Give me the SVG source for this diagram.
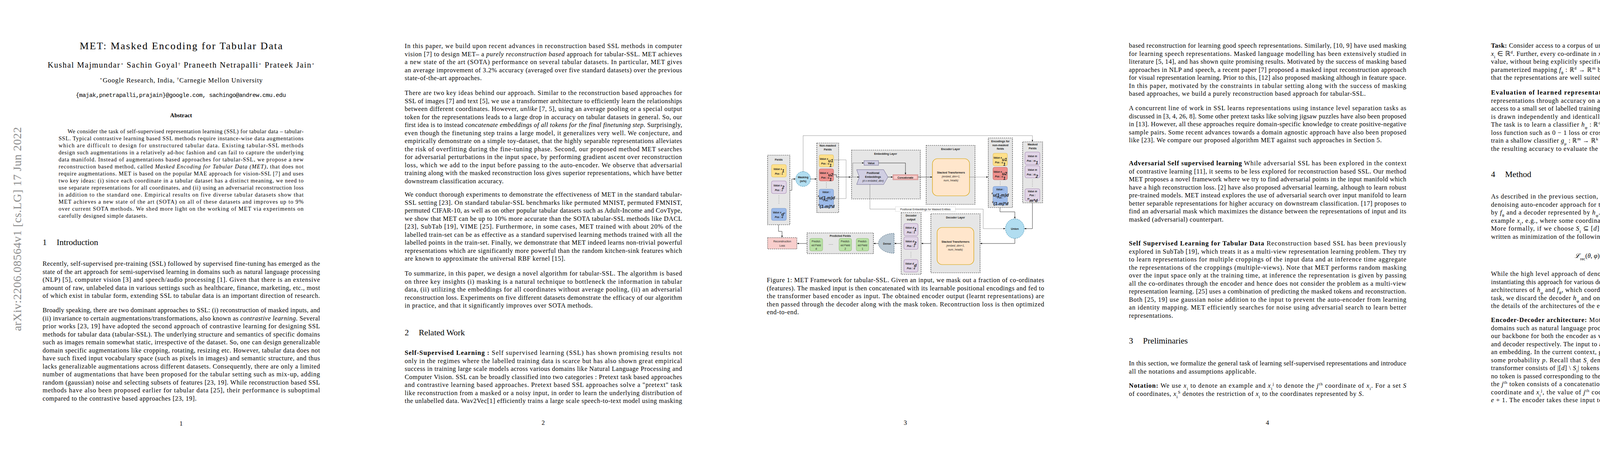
<svg xmlns="http://www.w3.org/2000/svg" width="4635" height="1200" viewBox="0 0 4635 1200">
<defs>
<marker id="ar" viewBox="0 0 10 10" refX="9" refY="5" markerWidth="5" markerHeight="5" orient="auto"><path d="M0,1 L10,5 L0,9 Z" fill="#000"/></marker>
<style>
.t{font-family:"Liberation Serif","Times New Roman",serif;font-size:16.5px;fill:#000}
.ab{font-family:"Liberation Serif",serif;font-size:14.5px;fill:#000}
.i{font-style:italic}
.bd{font-weight:bold}
.sub{baseline-shift:sub;font-size:11px}
.sup{baseline-shift:super;font-size:11px}
.h{font-family:"Liberation Serif",serif;font-size:21.5px;fill:#000}
.pn{font-family:"Liberation Serif",serif;font-size:16.5px;text-anchor:middle}
.grp{fill:#e6e6e6;stroke:#333;stroke-width:1.2;stroke-dasharray:3,2}
.f{font-family:"Liberation Sans",Arial,sans-serif;font-size:6.3px;font-weight:bold;font-style:italic;text-anchor:middle;fill:#222}
.ft{font-family:"Liberation Sans",Arial,sans-serif;font-size:7px;font-weight:bold;text-anchor:middle;fill:#222}
.fn{font-family:"Liberation Sans",Arial,sans-serif;font-size:6.8px;text-anchor:middle;fill:#222}
.y{fill:#ffe08a;stroke:#d6b656;stroke-width:0.8}
.r{fill:#ee8f8c;stroke:#b85450;stroke-width:0.8}
.p{fill:#e1d5e7;stroke:#9673a6;stroke-width:0.8}
.bl{fill:#9dbbea;stroke:#6c8ebf;stroke-width:0.8}
.g{fill:#b9e0a5;stroke:#82b366;stroke-width:0.8}
.c{fill:none;stroke:#222;stroke-width:0.9}
.cd{fill:none;stroke:#222;stroke-width:0.9;stroke-dasharray:1.5,1.5}
</style>
</defs>
<rect width="4635" height="1200" fill="#fff"/>

<!-- PAGE 1 -->
<g id="page1">
<text x="463.5" y="126" font-family="Liberation Serif,serif" font-size="26" text-anchor="middle" textLength="519">MET: Masked Encoding for Tabular Data</text>
<text x="122" y="173" font-family="Liberation Serif,serif" font-size="20.5" textLength="683">Kushal Majmundar<tspan class="sup">⋆</tspan>    Sachin Goyal<tspan class="sup">†</tspan>    Praneeth Netrapalli<tspan class="sup">⋆</tspan>    Prateek Jain<tspan class="sup">⋆</tspan></text>
<text x="255" y="211" font-family="Liberation Serif,serif" font-size="17" textLength="417"><tspan class="sup">⋆</tspan>Google Research, India, <tspan class="sup">†</tspan>Carnegie Mellon University</text>
<text x="194" y="248" font-family="Liberation Mono,monospace" font-size="15" textLength="538">{majak,pnetrapalli,prajain}@google.com, sachingo@andrew.cmu.edu</text>
<text x="463.5" y="300" font-family="Liberation Serif,serif" font-size="15" font-weight="bold" text-anchor="middle">Abstract</text>
<text class="ab" x="173" y="341" textLength="604">We consider the task of self-supervised representation learning (SSL) for tabular data – tabular-</text>
<text class="ab" x="150" y="359" textLength="627">SSL. Typical contrastive learning based SSL methods require instance-wise data augmentations</text>
<text class="ab" x="150" y="377" textLength="627">which are difficult to design for unstructured tabular data. Existing tabular-SSL methods</text>
<text class="ab" x="150" y="395" textLength="627">design such augmentations in a relatively ad-hoc fashion and can fail to capture the underlying</text>
<text class="ab" x="150" y="413" textLength="627">data manifold. Instead of augmentations based approaches for tabular-SSL, we propose a new</text>
<text class="ab" x="150" y="431" textLength="627">reconstruction based method, called <tspan class="i">Masked Encoding for Tabular Data (MET)</tspan>, that does not</text>
<text class="ab" x="150" y="449" textLength="627">require augmentations. MET is based on the popular MAE approach for vision-SSL [7] and uses</text>
<text class="ab" x="150" y="467" textLength="627">two key ideas: (i) since each coordinate in a tabular dataset has a distinct meaning, we need to</text>
<text class="ab" x="150" y="485" textLength="627">use separate representations for all coordinates, and (ii) using an adversarial reconstruction loss</text>
<text class="ab" x="150" y="503" textLength="627">in addition to the standard one. Empirical results on five diverse tabular datasets show that</text>
<text class="ab" x="150" y="521" textLength="627">MET achieves a new state of the art (SOTA) on all of these datasets and improves up to 9%</text>
<text class="ab" x="150" y="539" textLength="627">over current SOTA methods. We shed more light on the working of MET via experiments on</text>
<text class="ab" x="150" y="557" textLength="227">carefully designed simple datasets.</text>
<text class="h" x="109" y="627">1</text><text class="h" x="145" y="627">Introduction</text>
<text class="t" x="109" y="680" textLength="710">Recently, self-supervised pre-training (SSL) followed by supervised fine-tuning has emerged as the</text>
<text class="t" x="109" y="700.5" textLength="710">state of the art approach for semi-supervised learning in domains such as natural language processing</text>
<text class="t" x="109" y="721" textLength="710">(NLP) [5], computer vision [3] and speech/audio processing [1]. Given that there is an extensive</text>
<text class="t" x="109" y="741.5" textLength="710">amount of raw, unlabeled data in various settings such as healthcare, finance, marketing, etc., most</text>
<text class="t" x="109" y="762" textLength="710">of which exist in tabular form, extending SSL to tabular data is an important direction of research.</text>
<text class="t" x="109" y="799" textLength="710">Broadly speaking, there are two dominant approaches to SSL: (i) reconstruction of masked inputs, and</text>
<text class="t" x="109" y="819.5" textLength="710">(ii) invariance to certain augmentations/transformations, also known as <tspan class="i">contrastive learning</tspan>. Several</text>
<text class="t" x="109" y="840" textLength="710">prior works [23, 19] have adopted the second approach of contrastive learning for designing SSL</text>
<text class="t" x="109" y="860.5" textLength="710">methods for tabular data (tabular-SSL). The underlying structure and semantics of specific domains</text>
<text class="t" x="109" y="881" textLength="710">such as images remain somewhat static, irrespective of the dataset. So, one can design generalizable</text>
<text class="t" x="109" y="901.5" textLength="710">domain specific augmentations like cropping, rotating, resizing etc. However, tabular data does not</text>
<text class="t" x="109" y="922" textLength="710">have such fixed input vocabulary space (such as pixels in images) and semantic structure, and thus</text>
<text class="t" x="109" y="942.5" textLength="710">lacks generalizable augmentations across different datasets. Consequently, there are only a limited</text>
<text class="t" x="109" y="963" textLength="710">number of augmentations that have been proposed for the tabular setting such as mix-up, adding</text>
<text class="t" x="109" y="983.5" textLength="710">random (gaussian) noise and selecting subsets of features [23, 19]. While reconstruction based SSL</text>
<text class="t" x="109" y="1004" textLength="710">methods have also been proposed earlier for tabular data [25], their performance is suboptimal</text>
<text class="t" x="109" y="1024.5" textLength="394">compared to the contrastive based approaches [23, 19].</text>
<text class="pn" x="463.5" y="1089">1</text>
<text font-family="Liberation Serif,serif" font-size="30" fill="#8c8c8c" textLength="522" transform="translate(54,847) rotate(-90)">arXiv:2206.08564v1  [cs.LG]  17 Jun 2022</text>
</g>

<!-- PAGE 2 -->
<g id="page2">
<text class="t" x="1036" y="123" textLength="710">In this paper, we build upon recent advances in reconstruction based SSL methods in computer</text>
<text class="t" x="1036" y="143.5" textLength="710">vision [7] to design MET– a <tspan class="i">purely reconstruction based</tspan> approach for tabular-SSL. MET achieves</text>
<text class="t" x="1036" y="164" textLength="710">a new state of the art (SOTA) performance on several tabular datasets. In particular, MET gives</text>
<text class="t" x="1036" y="184.5" textLength="710">an average improvement of 3.2% accuracy (averaged over five standard datasets) over the previous</text>
<text class="t" x="1036" y="205" textLength="197">state-of-the-art approaches.</text>
<text class="t" x="1036" y="243" textLength="710">There are two key ideas behind our approach. Similar to the reconstruction based approaches for</text>
<text class="t" x="1036" y="263.5" textLength="710">SSL of images [7] and text [5], we use a transformer architecture to efficiently learn the relationships</text>
<text class="t" x="1036" y="284" textLength="710">between different coordinates. However, <tspan class="i">unlike</tspan> [7, 5], using an average pooling or a special output</text>
<text class="t" x="1036" y="304.5" textLength="710">token for the representations leads to a large drop in accuracy on tabular datasets in general. So, our</text>
<text class="t" x="1036" y="325" textLength="710">first idea is to instead <tspan class="i">concatenate embeddings of all tokens for the final finetuning step.</tspan> Surprisingly,</text>
<text class="t" x="1036" y="345.5" textLength="710">even though the finetuning step trains a large model, it generalizes very well. We conjecture, and</text>
<text class="t" x="1036" y="366" textLength="710">empirically demonstrate on a simple toy-dataset, that the highly separable representations alleviates</text>
<text class="t" x="1036" y="386.5" textLength="710">the risk of overfitting during the fine-tuning phase. Second, our proposed method MET searches</text>
<text class="t" x="1036" y="407" textLength="710">for adversarial perturbations in the input space, by performing gradient ascent over reconstruction</text>
<text class="t" x="1036" y="427.5" textLength="710">loss, which we add to the input before passing to the auto-encoder. We observe that adversarial</text>
<text class="t" x="1036" y="448" textLength="710">training along with the masked reconstruction loss gives superior representations, which have better</text>
<text class="t" x="1036" y="468.5" textLength="253">downstream classification accuracy.</text>
<text class="t" x="1036" y="503" textLength="710">We conduct thorough experiments to demonstrate the effectiveness of MET in the standard tabular-</text>
<text class="t" x="1036" y="523.5" textLength="710">SSL setting [23]. On standard tabular-SSL benchmarks like permuted MNIST, permuted FMNIST,</text>
<text class="t" x="1036" y="544" textLength="710">permuted CIFAR-10, as well as on other popular tabular datasets such as Adult-Income and CovType,</text>
<text class="t" x="1036" y="564.5" textLength="710">we show that MET can be up to 10% more accurate than the SOTA tabular-SSL methods like DACL</text>
<text class="t" x="1036" y="585" textLength="710">[23], SubTab [19], VIME [25]. Furthermore, in some cases, MET trained with about 20% of the</text>
<text class="t" x="1036" y="605.5" textLength="710">labelled train-set can be as effective as a standard supervised learning methods trained with all the</text>
<text class="t" x="1036" y="626" textLength="710">labelled points in the train-set. Finally, we demonstrate that MET indeed learns non-trivial powerful</text>
<text class="t" x="1036" y="646.5" textLength="710">representations which are significantly more powerful than the random kitchen-sink features which</text>
<text class="t" x="1036" y="667" textLength="411">are known to approximate the universal RBF kernel [15].</text>
<text class="t" x="1036" y="705" textLength="710">To summarize, in this paper, we design a novel algorithm for tabular-SSL. The algorithm is based</text>
<text class="t" x="1036" y="725.5" textLength="710">on three key insights (i) masking is a natural technique to bottleneck the information in tabular</text>
<text class="t" x="1036" y="746" textLength="710">data, (ii) utilizing the embeddings for all coordinates without average pooling, (ii) an adversarial</text>
<text class="t" x="1036" y="766.5" textLength="710">reconstruction loss. Experiments on five different datasets demonstrate the efficacy of our algorithm</text>
<text class="t" x="1036" y="787" textLength="481">in practice, and that it significantly improves over SOTA methods.</text>
<text class="h" x="1036" y="858">2</text><text class="h" x="1072" y="858">Related Work</text>
<text class="t" x="1036" y="908" textLength="710"><tspan class="bd">Self-Supervised Learning :</tspan>     Self supervised learning (SSL) has shown promising results not</text>
<text class="t" x="1036" y="928.5" textLength="710">only in the regimes where the labelled training data is scarce but has also shown great empirical</text>
<text class="t" x="1036" y="949" textLength="710">success in training large scale models across various domains like Natural Language Processing and</text>
<text class="t" x="1036" y="969.5" textLength="710">Computer Vision. SSL can be broadly classified into two categories : Pretext task based approaches</text>
<text class="t" x="1036" y="990" textLength="710">and contrastive learning based approaches. Pretext based SSL approaches solve a "pretext" task</text>
<text class="t" x="1036" y="1010.5" textLength="710">like reconstruction from a masked or a noisy input, in order to learn the underlying distribution of</text>
<text class="t" x="1036" y="1031" textLength="710">the unlabelled data. Wav2Vec[1] efficiently trains a large scale speech-to-text model using masking</text>
<text class="pn" x="1390.5" y="1087">2</text>
</g>

<!-- PAGE 3 : FIGURE -->
<g transform="translate(1854,0)">
<g id="fields"><rect class="grp" x="111" y="397" width="57" height="178"/><text class="ft" x="139.5" y="411">Fields</text>
<rect class="y" x="121" y="421" width="38" height="32" rx="4"/><text class="f" x="140" y="435">Value x<tspan class="sub" font-size="4.5">1</tspan></text><text class="f" x="140" y="447">Pos : 1</text>
<rect class="p" x="121" y="463" width="38" height="32" rx="4"/><text class="f" x="140" y="477">Value x<tspan class="sub" font-size="4.5">2</tspan></text><text class="f" x="140" y="489">Pos : 2</text>
<line x1="140" y1="500" x2="140" y2="522" stroke="#444" stroke-dasharray="1,3"/>
<rect class="bl" x="121" y="533" width="38" height="31" rx="4"/><text class="f" x="140" y="546">Value x<tspan class="sub" font-size="4.5">d'</tspan></text><text class="f" x="140" y="558">Pos : d</text></g>
<g id="masking"><ellipse cx="202" cy="458" rx="19" ry="19" fill="#b1ddf0" stroke="#10739e" stroke-width="0.9" stroke-dasharray="3,2"/><text class="fn" x="202" y="456" font-weight="bold">Masking</text><text class="fn" x="202" y="466" font-weight="bold">(m%)</text></g>
<g id="nonmasked"><rect class="grp" x="237" y="366" width="56" height="178"/><text class="ft" x="265" y="375">Non-masked</text><text class="ft" x="265" y="385">Fields</text>
<rect class="y" x="243" y="396" width="37" height="31" rx="4"/><text class="f" x="261.5" y="409">Value x<tspan class="sub" font-size="4.5">u1</tspan></text><text class="f" x="261.5" y="421">Pos : u<tspan class="sub" font-size="4.5">1</tspan></text>
<rect class="r" x="243" y="432" width="37" height="31" rx="4"/><text class="f" x="261.5" y="445">Value x<tspan class="sub" font-size="4.5">u2</tspan></text><text class="f" x="261.5" y="457">Pos : u<tspan class="sub" font-size="4.5">1</tspan></text>
<line x1="261.5" y1="467" x2="261.5" y2="482" stroke="#444" stroke-dasharray="1,3"/>
<rect class="bl" x="243" y="484" width="37" height="48" rx="4"/><text class="f" x="261.5" y="494">Value :</text><text class="f" x="261.5" y="504">x<tspan class="sub" font-size="4">u(1-m)d</tspan></text><text class="f" x="261.5" y="515">Pos :</text><text class="f" x="261.5" y="526">u<tspan class="sub" font-size="4.5">(1-m)*d</tspan></text></g>
<g id="embedding"><rect class="grp" x="326" y="384" width="176" height="125"/><text class="ft" x="413" y="396">Embedding Layer</text>
<rect x="358" y="411" width="37" height="12" fill="#d0cee2" stroke="#56517e" stroke-width="0.8"/><text class="fn" x="376.5" y="420" font-weight="bold">Value</text>
<polygon points="339,434 408,434 419,453 408,472 339,472 346,453" fill="#d0cee2" stroke="#56517e" stroke-width="0.8"/>
<text class="fn" x="381" y="445" font-weight="bold">Positional</text><text class="fn" x="381" y="455" font-weight="bold">Embeddings</text><text class="fn" x="381" y="465" font-style="italic">(d x embded_dim)</text>
<rect x="432" y="447" width="64" height="13" fill="#f8cecc" stroke="#b85450" stroke-width="0.8"/><rect x="434" y="449" width="60" height="9" fill="none" stroke="#b85450" stroke-width="0.5"/><text class="fn" x="464" y="456.5" font-weight="bold">Concatenate</text></g>
<g id="encoder"><rect class="grp" x="517" y="372" width="125" height="151"/><text class="ft" x="579.5" y="384">Encoder Layer</text>
<rect x="533" y="406" width="95" height="95" rx="13" fill="#ffe6cc" stroke="#d6a000" stroke-width="1.2"/>
<text class="fn" x="580.5" y="444" font-weight="bold">Stacked Transformers</text><text class="fn" x="580.5" y="454" font-style="italic">(embed_dim+1,</text><text class="fn" x="580.5" y="464" font-style="italic">num_heads)</text></g>
<g id="encodings"><rect class="grp" x="676" y="353" width="62" height="178"/><text class="ft" x="707" y="364">Encodings for</text><text class="ft" x="707" y="374">non-masked</text><text class="ft" x="707" y="383">fields</text>
<rect class="y" x="688" y="392" width="37" height="32" rx="4"/><text class="f" x="706.5" y="406">Value e<tspan class="sub" font-size="4.5">u1</tspan></text><text class="f" x="706.5" y="418">Pos : u<tspan class="sub" font-size="4.5">1</tspan></text>
<rect class="r" x="688" y="428" width="37" height="32" rx="4"/><text class="f" x="706.5" y="442">Value e<tspan class="sub" font-size="4.5">u2</tspan></text><text class="f" x="706.5" y="454">Pos : u<tspan class="sub" font-size="4.5">1</tspan></text>
<line x1="706.5" y1="464" x2="706.5" y2="475" stroke="#444" stroke-dasharray="1,3"/>
<rect class="bl" x="688" y="477" width="37" height="48" rx="4"/><text class="f" x="706.5" y="487">Value :</text><text class="f" x="706.5" y="497">e<tspan class="sub" font-size="4">u(1-m)d</tspan></text><text class="f" x="706.5" y="508">Pos :</text><text class="f" x="706.5" y="519">u<tspan class="sub" font-size="4.5">(1-m)*d</tspan></text></g>
<g id="masked"><rect class="grp" x="764" y="363" width="51" height="156"/><text class="ft" x="789.5" y="372">Masked</text><text class="ft" x="789.5" y="382">Fields</text>
<rect class="p" x="770" y="389" width="38" height="32" rx="4"/><text class="f" x="789" y="402">Value m</text><text class="f" x="789" y="414">Pos : m<tspan class="sub" font-size="4.5">1</tspan></text>
<rect class="p" x="770" y="424" width="38" height="31" rx="4"/><text class="f" x="789" y="437">Value m</text><text class="f" x="789" y="449">Pos : m<tspan class="sub" font-size="4.5">2</tspan></text>
<line x1="789" y1="460" x2="789" y2="477" stroke="#444" stroke-dasharray="1,3"/>
<rect class="p" x="770" y="483" width="38" height="31" rx="4"/><text class="f" x="789" y="492">Value m</text><text class="f" x="789" y="502">Pos :</text><text class="f" x="789" y="511">m<tspan class="sub" font-size="4.5">m*d</tspan></text></g>
<g id="union"><ellipse cx="744" cy="585" rx="24" ry="25" fill="#b1ddf0" stroke="#10739e" stroke-width="0.9" stroke-dasharray="3,2"/><text class="ft" x="744" y="588" font-size="8.5">Union</text></g>
<g id="decoder"><rect class="grp" x="529" y="547" width="126" height="151"/><text class="ft" x="592" y="559">Decoder Layer</text>
<rect x="545" y="582" width="94" height="95" rx="13" fill="#ffe6cc" stroke="#d6a000" stroke-width="1.2"/>
<text class="fn" x="592" y="621" font-weight="bold">Stacked Transformers</text><text class="fn" x="592" y="631" font-style="italic">(embed_dim+1,</text><text class="fn" x="592" y="641" font-style="italic">num_heads)</text></g>
<g id="decout"><rect class="grp" x="453" y="544" width="51" height="158"/><text class="ft" x="478.5" y="554">Decoder</text><text class="ft" x="478.5" y="564">output</text>
<rect class="p" x="460" y="572" width="36" height="31" rx="4"/><text class="f" x="478" y="585">Value d<tspan class="sub" font-size="4.5">1</tspan></text><text class="f" x="478" y="597">Pos : 1</text>
<rect class="p" x="460" y="606" width="36" height="32" rx="4"/><text class="f" x="478" y="620">Value d<tspan class="sub" font-size="4.5">2</tspan></text><text class="f" x="478" y="632">Pos : 2</text>
<line x1="478" y1="645" x2="478" y2="660" stroke="#444" stroke-dasharray="1,3"/>
<rect class="p" x="460" y="664" width="36" height="32" rx="4"/><text class="f" x="478" y="677">Value d<tspan class="sub" font-size="4.5">d</tspan></text><text class="f" x="478" y="689">Pos : d</text></g>
<g id="dense"><path d="M435,597 A40,25.5 0 0 0 435,648 Z" fill="#bac8d3" stroke="#23445d" stroke-width="0.9" stroke-dasharray="3,2"/><text class="fn" x="417" y="626" font-weight="bold">Dense</text></g>
<g id="predicted"><rect class="grp" x="212" y="596" width="170" height="53"/><text class="ft" x="297" y="606">Predicted Fields</text>
<rect class="g" x="219" y="610" width="33" height="32" rx="4"/><text class="fn" x="235.5" y="620">Predict-</text><text class="fn" x="235.5" y="630">ed Field</text><text class="fn" x="235.5" y="639">d</text>
<text class="fn" x="273" y="626" font-size="8">......</text>
<rect class="g" x="294" y="610" width="32" height="32" rx="4"/><text class="fn" x="310" y="620">Predict-</text><text class="fn" x="310" y="630">ed Field</text><text class="fn" x="310" y="639">2</text>
<rect class="g" x="338" y="610" width="32" height="32" rx="4"/><text class="fn" x="354" y="620">Predict-</text><text class="fn" x="354" y="630">ed Field</text><text class="fn" x="354" y="639">1</text></g>
<g id="recon"><rect x="111" y="608" width="75" height="29" fill="#f8cecc" stroke="#333" stroke-width="1" stroke-dasharray="3,2"/><text class="fn" x="148.5" y="620">Reconstruction</text><text class="fn" x="148.5" y="631">Loss</text></g>
<g id="connectors">
<path class="c" d="M168,487 H173 V458 H182" marker-end="url(#ar)"/>
<path class="cd" d="M202,439 V347 H789 V362" marker-end="url(#ar)"/>
<path class="c" d="M221,458 H236" marker-end="url(#ar)"/>
<path d="M280,409 H312 V508 H280" fill="none" stroke="#888" stroke-width="0.8"/>
<path class="c" d="M280,447 H287 V453 H323" marker-end="url(#ar)"/>
<path class="cd" d="M329,453 V417 H357" marker-end="url(#ar)"/>
<path class="cd" d="M323,453 H345" marker-end="url(#ar)"/>
<path class="c" d="M395,417 H464 V446" marker-end="url(#ar)"/>
<path class="c" d="M419,453 H431" marker-end="url(#ar)"/>
<path class="c" d="M496,453 H532" marker-end="url(#ar)"/>
<path class="cd" d="M628,453 H675" marker-end="url(#ar)"/>
<path class="cd" d="M373,472 V535 H438"/>
<rect x="438" y="529" width="154" height="12" fill="#fff" stroke="#bbb" stroke-width="0.5"/>
<text class="fn" x="515" y="538">Positional Embeddings for Masked Entities</text>
<path class="cd" d="M592,535 H663 V585 H719" marker-end="url(#ar)"/>
<path class="c" d="M706,531 V542 H744 V559" marker-end="url(#ar)"/>
<path class="c" d="M789,519 V585 H769" marker-end="url(#ar)"/>
<path class="c" d="M744,610 V623 H656" marker-end="url(#ar)"/>
<path class="c" d="M529,623 H505" marker-end="url(#ar)"/>
<path class="c" d="M453,623 H436" marker-end="url(#ar)"/>
<path class="c" d="M395,623 H383" marker-end="url(#ar)"/>
<path class="c" d="M212,623 H187" marker-end="url(#ar)"/>
<path class="c" d="M139,575 V592 H148 V607" marker-end="url(#ar)"/>
</g>
<text class="t" x="109" y="722" textLength="710">Figure 1: MET Framework for tabular-SSL. Given an input, we mask out a fraction of co-ordinates</text>
<text class="t" x="109" y="742.5" textLength="710">(features). The masked input is then concatenated with its learnable positional encodings and fed to</text>
<text class="t" x="109" y="763" textLength="710">the transformer based encoder as input. The obtained encoder output (learnt representations) are</text>
<text class="t" x="109" y="783.5" textLength="710">then passed through the decoder along with the mask token. Recontruction loss is then optimized</text>
<text class="t" x="109" y="804" textLength="82">end-to-end.</text>
<text class="pn" x="463.5" y="1087">3</text>
</g>

<!-- PAGE 4 -->
<g id="page4">
<text class="t" x="2890" y="122" textLength="710">based reconstruction for learning good speech representations. Similarly, [10, 9] have used masking</text>
<text class="t" x="2890" y="142.5" textLength="710">for learning speech representations. Masked language modelling has been extensively studied in</text>
<text class="t" x="2890" y="163" textLength="710">literature [5, 14], and has shown quite promising results. Motivated by the success of masking based</text>
<text class="t" x="2890" y="183.5" textLength="710">approaches in NLP and speech, a recent paper [7] proposed a masked input reconstruction approach</text>
<text class="t" x="2890" y="204" textLength="710">for visual representation learning. Prior to this, [12] also proposed masking although in feature space.</text>
<text class="t" x="2890" y="224.5" textLength="710">In this paper, motivated by the constraints in tabular setting along with the success of masking</text>
<text class="t" x="2890" y="245" textLength="606">based approaches, we build a purely reconstruction based approach for tabular-SSL.</text>
<text class="t" x="2890" y="282" textLength="710">A concurrent line of work in SSL learns representations using instance level separation tasks as</text>
<text class="t" x="2890" y="302.5" textLength="710">discussed in [3, 4, 26, 8]. Some other pretext tasks like solving jigsaw puzzles have also been proposed</text>
<text class="t" x="2890" y="323" textLength="710">in [13]. However, all these approaches require domain-specific knowledge to create positive-negative</text>
<text class="t" x="2890" y="343.5" textLength="710">sample pairs. Some recent advances towards a domain agnostic approach have also been proposed</text>
<text class="t" x="2890" y="364" textLength="647">like [23]. We compare our proposed algorithm MET against such approaches in Section 5.</text>
<text class="t" x="2890" y="423" textLength="710"><tspan class="bd">Adversarial Self supervised learning</tspan>   While adversarial SSL has been explored in the context</text>
<text class="t" x="2890" y="443.5" textLength="710">of contrastive learning [11], it seems to be less explored for reconstruction based SSL. Our method</text>
<text class="t" x="2890" y="464" textLength="710">MET proposes a novel framework where we try to find adversarial points in the input manifold which</text>
<text class="t" x="2890" y="484.5" textLength="710">have a high reconstruction loss. [2] have also proposed adversarial learning, although to learn robust</text>
<text class="t" x="2890" y="505" textLength="710">pre-trained models. MET instead explores the use of adversarial search over input manifold to learn</text>
<text class="t" x="2890" y="525.5" textLength="710">better separable representations for higher accuracy on downstream classification. [17] proposes to</text>
<text class="t" x="2890" y="546" textLength="710">find an adversarial mask which maximizes the distance between the representations of input and its</text>
<text class="t" x="2890" y="566.5" textLength="242">masked (adversarial) counterpart.</text>
<text class="t" x="2890" y="628" textLength="710"><tspan class="bd">Self Supervised Learning for Tabular Data</tspan>   Reconstruction based SSL has been previously</text>
<text class="t" x="2890" y="648.5" textLength="710">explored in SubTab [19], which treats it as a multi-view representation learning problem. They try</text>
<text class="t" x="2890" y="669" textLength="710">to learn representations for multiple croppings of the input data and at inference time aggregate</text>
<text class="t" x="2890" y="689.5" textLength="710">the representations of the croppings (multiple-views). Note that MET performs random masking</text>
<text class="t" x="2890" y="710" textLength="710">over the input space only at the training time, at inference the representation is given by passing</text>
<text class="t" x="2890" y="730.5" textLength="710">all the co-ordinates through the encoder and hence does not consider the problem as a multi-view</text>
<text class="t" x="2890" y="751" textLength="710">representation learning. [25] uses a combination of predicting the masked tokens and reconstruction.</text>
<text class="t" x="2890" y="771.5" textLength="710">Both [25, 19] use gaussian noise addition to the input to prevent the auto-encoder from learning</text>
<text class="t" x="2890" y="792" textLength="710">an identity mapping. MET efficiently searches for noise using adversarial search to learn better</text>
<text class="t" x="2890" y="812.5" textLength="113">representations.</text>
<text class="h" x="2890" y="879">3</text><text class="h" x="2926" y="879">Preliminaries</text>
<text class="t" x="2890" y="935" textLength="710">In this section, we formalize the general task of learning self-supervised representations and introduce</text>
<text class="t" x="2890" y="955.5" textLength="326">all the notations and assumptions applicable.</text>
<text class="t" x="2890" y="992" textLength="710"><tspan class="bd">Notation:</tspan> We use <tspan class="i">x</tspan><tspan class="sub">i</tspan> to denote an example and <tspan class="i">x</tspan><tspan class="sub">i</tspan><tspan class="sup">j</tspan> to denote the <tspan class="i">j</tspan><tspan class="sup">th</tspan> coordinate of <tspan class="i">x</tspan><tspan class="sub">i</tspan>. For a set <tspan class="i">S</tspan></text>
<text class="t" x="2890" y="1012.5" textLength="601">of coordinates, <tspan class="i">x</tspan><tspan class="sub">i</tspan><tspan class="sup">S</tspan> denotes the restriction of <tspan class="i">x</tspan><tspan class="sub">i</tspan> to the coordinates represented by <tspan class="i">S</tspan>.</text>
<text class="pn" x="3244.5" y="1087">4</text>
</g>

<!-- PAGE 5 -->
<g id="page5">
<text class="t" x="3817" y="122" textLength="710"><tspan class="bd">Task:</tspan> Consider access to a corpus of unlabelled dataset given by <tspan class="i">𝒟</tspan><tspan class="sub">u</tspan> = {<tspan class="i">x</tspan><tspan class="sub">i</tspan>}<tspan class="sub">i=1</tspan><tspan class="sup">N</tspan> where each datapoint</text>
<text class="t" x="3817" y="142.5" textLength="710"><tspan class="i">x</tspan><tspan class="sub">i</tspan> ∈ ℝ<tspan class="sup">d</tspan>. Further, every co-ordinate in <tspan class="i">x</tspan><tspan class="sub">i</tspan> i.e. <tspan class="i">x</tspan><tspan class="sub">i</tspan><tspan class="sup">j</tspan> ∈ ℝ can be either a categorical or a non-categorical</text>
<text class="t" x="3817" y="163" textLength="710">value, without being explicitly specified. The general goal of self-supervised learning is to learn a</text>
<text class="t" x="3817" y="183.5" textLength="710">parameterized mapping <tspan class="i">f</tspan><tspan class="sub">θ</tspan> : ℝ<tspan class="sup">d</tspan> → ℝ<tspan class="sup">m</tspan> between the input <tspan class="i">x</tspan><tspan class="sub">i</tspan> and its representation <tspan class="i">f</tspan><tspan class="sub">θ</tspan>(<tspan class="i">x</tspan><tspan class="sub">i</tspan>) ∈ ℝ<tspan class="sup">m</tspan>, such</text>
<text class="t" x="3817" y="204" textLength="582">that the representations are well suited for a downstream task as described next.</text>
<text class="t" x="3817" y="242" textLength="710"><tspan class="bd">Evaluation of learned representations:</tspan> In this paper, we evaluate the quality of learned</text>
<text class="t" x="3817" y="262.5" textLength="710">representations through accuracy on a downstream classification task. More concretely, we have</text>
<text class="t" x="3817" y="283" textLength="710">access to a small set of labelled training dataset <tspan class="i">𝒟</tspan><tspan class="sub">train</tspan> = {<tspan class="i">x</tspan><tspan class="sub">i</tspan>, <tspan class="i">y</tspan><tspan class="sub">i</tspan>}<tspan class="sub">i=1</tspan><tspan class="sup">N train</tspan> where <tspan class="i">y</tspan><tspan class="sub">i</tspan> ∈ ℝ<tspan class="sup">k</tspan> and each (<tspan class="i">x</tspan><tspan class="sub">i</tspan>, <tspan class="i">y</tspan><tspan class="sub">i</tspan>)</text>
<text class="t" x="3817" y="303.5" textLength="710">is drawn independently and identically (i.i.d.) from some underlying distribution <tspan class="i">𝒟</tspan> on ℝ<tspan class="sup">d</tspan> × ℝ<tspan class="sup">k</tspan>.</text>
<text class="t" x="3817" y="324" textLength="710">The task is to learn a classifier <tspan class="i">h</tspan><tspan class="sub">φ</tspan> : ℝ<tspan class="sup">d</tspan> → ℝ<tspan class="sup">k</tspan> which minimizes 𝔼<tspan class="sub">(x,y)∼𝒟</tspan> [ℓ(<tspan class="i">h</tspan><tspan class="sub">φ</tspan>(<tspan class="i">x</tspan>), <tspan class="i">y</tspan>)], where ℓ is a</text>
<text class="t" x="3817" y="344.5" textLength="710">loss function such as 0 − 1 loss or cross entropy loss etc. Given the learned representations <tspan class="i">f</tspan><tspan class="sub">θ</tspan>, we</text>
<text class="t" x="3817" y="365" textLength="710">train a shallow classifier <tspan class="i">g</tspan><tspan class="sub">μ</tspan> : ℝ<tspan class="sup">m</tspan> → ℝ<tspan class="sup">k</tspan> (we use a 2-hidden layer MLP in our default setting) and use</text>
<text class="t" x="3817" y="385.5" textLength="371">the resulting accuracy to evaluate the quality of <tspan class="i">f</tspan><tspan class="sub">θ</tspan>.</text>
<text class="h" x="3817" y="453">4</text><text class="h" x="3853" y="453">Method</text>
<text class="t" x="3817" y="508" textLength="710">As described in the previous section, our goal is to learn a parameterized mapping <tspan class="i">f</tspan><tspan class="sub">θ</tspan>. We take a</text>
<text class="t" x="3817" y="528.5" textLength="710">denoising auto-encoder approach for this [24]. In this approach, we have an encoder represented</text>
<text class="t" x="3817" y="549" textLength="710">by <tspan class="i">f</tspan><tspan class="sub">θ</tspan> and a decoder represented by <tspan class="i">h</tspan><tspan class="sub">φ</tspan>. The task of the encoder is to take a noisy version of input</text>
<text class="t" x="3817" y="569.5" textLength="710">example <tspan class="i">x</tspan><tspan class="sub">i</tspan>, e.g., where some coordinates of <tspan class="i">x</tspan><tspan class="sub">i</tspan> are masked, and reconstruct the entire example <tspan class="i">x</tspan><tspan class="sub">i</tspan>.</text>
<text class="t" x="3817" y="590" textLength="710">More formally, if we choose <tspan class="i">S</tspan><tspan class="sub">i</tspan> ⊆ [<tspan class="i">d</tspan>] coordinates to be masked in <tspan class="i">x</tspan><tspan class="sub">i</tspan>, then this approach can be</text>
<text class="t" x="3817" y="610.5" textLength="357">written as minimization of the following function:</text>
<text class="t" x="4031" y="660"><tspan class="i">ℒ</tspan><tspan class="sub">rec</tspan>(<tspan class="i">θ</tspan>, <tspan class="i">φ</tspan>) =</text>
<text class="t" x="4115" y="667" font-size="30">∑</text>
<text class="t" x="4118" y="639" font-size="11" font-style="italic">N<tspan class="sub" font-size="8">u</tspan></text>
<text class="t" x="4117" y="678" font-size="11"><tspan class="i">i</tspan>=1</text>
<text class="t" x="4146" y="660">‖<tspan class="i">x</tspan><tspan class="sub">i</tspan> − <tspan class="i">h</tspan><tspan class="sub">φ</tspan>(<tspan class="i">f</tspan><tspan class="sub">θ</tspan>(<tspan class="i">S</tspan><tspan class="sub">i</tspan>, <tspan class="i">x</tspan><tspan class="sub">i</tspan><tspan class="sup">Si</tspan>))‖<tspan class="sup">2</tspan><tspan class="sub">2</tspan>.</text>
<text class="t" x="4527" y="660" text-anchor="end">(1)</text>
<text class="t" x="3817" y="706" textLength="710">While the high level approach of denoising autoencoder was proposed in the seminal paper [24],</text>
<text class="t" x="3817" y="726.5" textLength="710">instantiating this approach for various domains has required several domain specific insights including</text>
<text class="t" x="3817" y="747" textLength="710">architectures of <tspan class="i">h</tspan><tspan class="sub">φ</tspan> and <tspan class="i">f</tspan><tspan class="sub">θ</tspan>, which coordinates to mask etc. ( [5, 20, 7]). For downstream evaluation</text>
<text class="t" x="3817" y="767.5" textLength="710">task, we discard the decoder <tspan class="i">h</tspan><tspan class="sub">φ</tspan> and only use the representations computed by <tspan class="i">f</tspan><tspan class="sub">θ</tspan>. We now describe</text>
<text class="t" x="3817" y="788" textLength="653">the details of the architectures of the encoder and decoder as well as the masking strategy.</text>
<text class="t" x="3817" y="824" textLength="710"><tspan class="bd">Encoder-Decoder architecture:</tspan> Motivated by the success of transformers [21] across various</text>
<text class="t" x="3817" y="844.5" textLength="710">domains such as natural language processing (NLP) and computer vision, we use a transformer as</text>
<text class="t" x="3817" y="865" textLength="710">our backbone for both the encoder as well as the decoder. Recall that <tspan class="i">f</tspan><tspan class="sub">θ</tspan> and <tspan class="i">h</tspan><tspan class="sub">φ</tspan> denote the encoder</text>
<text class="t" x="3817" y="885.5" textLength="710">and decoder respectively. The input to a transformer is given as a set of tokens, each represented by</text>
<text class="t" x="3817" y="906" textLength="710">an embedding. In the current context, given an example <tspan class="i">x</tspan><tspan class="sub">i</tspan>, each coordinate <tspan class="i">j</tspan> ∈ [<tspan class="i">d</tspan>] is masked with</text>
<text class="t" x="3817" y="926.5" textLength="710">some probability <tspan class="i">p</tspan>. Recall that <tspan class="i">S</tspan><tspan class="sub">i</tspan> denotes the set of masked coordinates for <tspan class="i">x</tspan><tspan class="sub">i</tspan>. The input to the</text>
<text class="t" x="3817" y="947" textLength="710">transformer consists of |[<tspan class="i">d</tspan>] \ <tspan class="i">S</tspan><tspan class="sub">i</tspan>| tokens each corresponding to one coordinate <tspan class="i">j</tspan> ∈ [<tspan class="i">d</tspan>] \ <tspan class="i">S</tspan><tspan class="sub">i</tspan>. Note that</text>
<text class="t" x="3817" y="967.5" textLength="710">no token is passed corresponding to the masked coordinates. The input embedding corresponding to</text>
<text class="t" x="3817" y="988" textLength="710">the <tspan class="i">j</tspan><tspan class="sup">th</tspan> token consists of a concatenation of <tspan class="i">pe</tspan><tspan class="sub">j</tspan> ∈ ℝ<tspan class="sup">e</tspan>, a learnable encoding corresponding to the <tspan class="i">j</tspan><tspan class="sup">th</tspan></text>
<text class="t" x="3817" y="1008.5" textLength="710">coordinate and <tspan class="i">x</tspan><tspan class="sub">i</tspan><tspan class="sup">j</tspan>, the value of <tspan class="i">j</tspan><tspan class="sup">th</tspan> coordinate in <tspan class="i">x</tspan><tspan class="sub">i</tspan>. So, the total dimension of the embedding is</text>
<text class="t" x="3817" y="1029" textLength="710"><tspan class="i">e</tspan> + 1. The encoder takes these input tokens through several layers of multi-headed attention and</text>
<text class="pn" x="4171.5" y="1087">5</text>
</g>
</svg>
